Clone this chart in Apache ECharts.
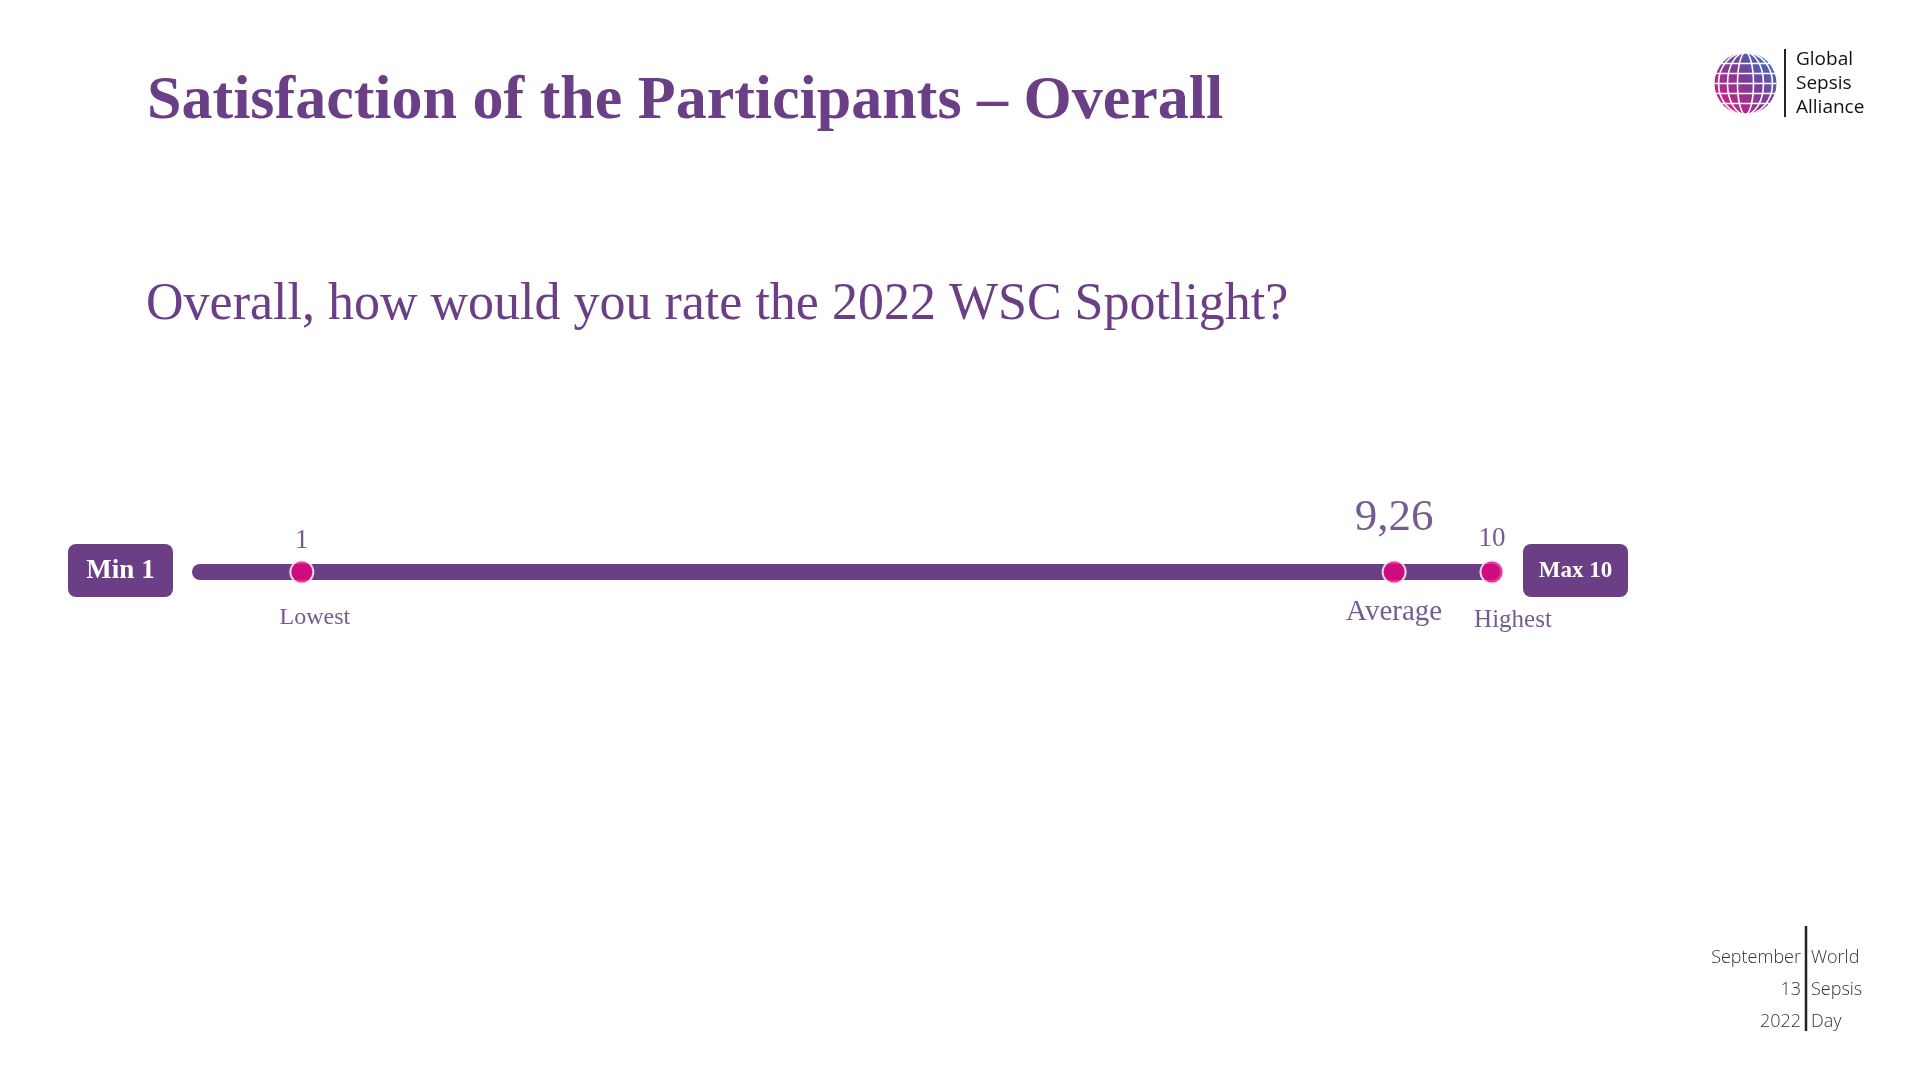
<!DOCTYPE html>
<html>
<head>
<meta charset="utf-8">
<script src="https://cdn.jsdelivr.net/npm/echarts@6/dist/echarts.min.js"></script>
<style>
html,body{margin:0;padding:0;background:#fff;}
#chart{width:1920px;height:1080px;}
</style>
</head>
<body>
<div id="chart"></div>
<script>
// ---- data ----
const titleText = 'Satisfaction of the Participants – Overall';
const questionText = 'Overall, how would you rate the 2022 WSC Spotlight?';
const pointNames = ['Lowest', 'Average', 'Highest'];
const pointValues = [1, 9.26, 10];
const valueLabels = ['1', '9,26', '10'];
const scaleMinLabel = 'Min 1';
const scaleMaxLabel = 'Max 10';
const footerLeft = ['September', '13', '2022'];
const footerRight = ['World', 'Sepsis', 'Day'];
const logoLines = ['Global', 'Sepsis', 'Alliance'];

// ---- styles ----
const PURPLE = '#6a3f86';
const LABEL = '#533272';
const PINK = '#e5007d';
const SERIF = '"Liberation Serif", "DejaVu Serif", serif';
const SANS = '"Open Sans", "DejaVu Sans", sans-serif';

// per-point label placement (styling only)
const valueLabelStyle = [
  {offset: [0, -31], fontSize: 27},
  {offset: [0, -54], fontSize: 45},
  {offset: [0, -33], fontSize: 27}
];
const nameLabelStyle = [
  {offset: [13, 46], fontSize: 24},
  {offset: [0, 40], fontSize: 29},
  {offset: [21, 48], fontSize: 25}
];

const chart = echarts.init(document.getElementById('chart'));

const dotData = pointValues.map((v, i) => ({
  value: [v, 0],
  label: {
    show: true, position: 'inside', formatter: valueLabels[i],
    offset: valueLabelStyle[i].offset, fontSize: valueLabelStyle[i].fontSize,
    color: LABEL, fontFamily: SERIF
  }
}));
const nameData = pointValues.map((v, i) => ({
  value: [v, 0],
  label: {
    show: true, position: 'inside', formatter: pointNames[i],
    offset: nameLabelStyle[i].offset, fontSize: nameLabelStyle[i].fontSize,
    color: LABEL, fontFamily: SERIF
  }
}));

function boxWithText(x, y, w, h, text, fs) {
  return {
    type: 'group', left: x, top: y,
    children: [
      {type: 'rect', shape: {x: 0, y: 0, width: w, height: h, r: 8}, style: {fill: PURPLE}},
      {type: 'text', x: w / 2, y: h / 2 + 1, style: {text: text, fill: '#fff', font: 'bold ' + fs + 'px ' + SERIF, textAlign: 'center', textVerticalAlign: 'middle'}}
    ]
  };
}

// globe logo (decorative)
const gcx = 32, gcy = 33, gr = 31;
const globeChildren = [
  {type: 'circle', shape: {cx: gcx, cy: gcy, r: gr}, style: {fill: new echarts.graphic.LinearGradient(1, 0, 0, 1, [
    {offset: 0, color: '#2f7fc1'}, {offset: 0.45, color: '#7a3d98'}, {offset: 1, color: '#e8157f'}
  ])}}
];
[-20, -10, 0, 10, 20].forEach(dy => {
  const half = Math.sqrt(gr * gr - dy * dy);
  globeChildren.push({type: 'line', shape: {x1: gcx - half, y1: gcy + dy, x2: gcx + half, y2: gcy + dy}, style: {stroke: '#fff', lineWidth: 1.6}});
});
[8, 18, 27].forEach(rx => {
  globeChildren.push({type: 'ellipse', shape: {cx: gcx, cy: gcy, rx: rx, ry: gr}, style: {fill: 'none', stroke: '#fff', lineWidth: 1.6}});
});

const graphics = [
  boxWithText(68, 544, 105, 53, scaleMinLabel, 27),
  boxWithText(1523, 544, 105, 53, scaleMaxLabel, 23),
  {type: 'group', left: 1712, top: 50, children: globeChildren},
  {type: 'line', shape: {x1: 1785, y1: 49, x2: 1785, y2: 117}, style: {stroke: '#222', lineWidth: 2}},
  {type: 'line', shape: {x1: 1806, y1: 926, x2: 1806, y2: 1031}, style: {stroke: '#222', lineWidth: 2.5}}
];
logoLines.forEach((t, i) => graphics.push({type: 'text', left: 1796, top: 50 + i * 24, style: {text: t, fill: '#111', font: '19px ' + SANS}}));
footerLeft.forEach((t, i) => graphics.push({type: 'text', x: 1801, y: 958 + i * 32, style: {text: t, fill: '#333', font: '300 18px ' + SANS, textAlign: 'right', textVerticalAlign: 'middle'}}));
footerRight.forEach((t, i) => graphics.push({type: 'text', x: 1811, y: 958 + i * 32, style: {text: t, fill: '#333', font: '300 18px ' + SANS, textAlign: 'left', textVerticalAlign: 'middle'}}));

chart.setOption({
  backgroundColor: '#fff',
  animation: false,
  title: [
    {text: titleText, left: 142, top: 66, textStyle: {fontFamily: SERIF, fontWeight: 'bold', fontSize: 62, color: PURPLE}},
    {text: questionText, left: 141, top: 274, textStyle: {fontFamily: SERIF, fontWeight: 'normal', fontSize: 52, color: PURPLE}}
  ],
  grid: {left: 200, right: 428, top: 472, height: 200},
  xAxis: {
    type: 'value', min: 0.23, max: 10,
    axisLine: {show: true, onZero: true, lineStyle: {color: PURPLE, width: 16, cap: 'round'}},
    axisTick: {show: false}, axisLabel: {show: false}, splitLine: {show: false}
  },
  yAxis: {type: 'value', min: -1, max: 1, show: false},
  series: [
    {type: 'scatter', data: nameData, symbolSize: 1, itemStyle: {color: 'rgba(0,0,0,0)'}, z: 2},
    {type: 'scatter', data: dotData, symbol: 'circle', symbolSize: 23,
     itemStyle: {color: PINK, borderColor: '#fff', borderWidth: 2}, z: 3}
  ],
  graphic: graphics
});
</script>
</body>
</html>
